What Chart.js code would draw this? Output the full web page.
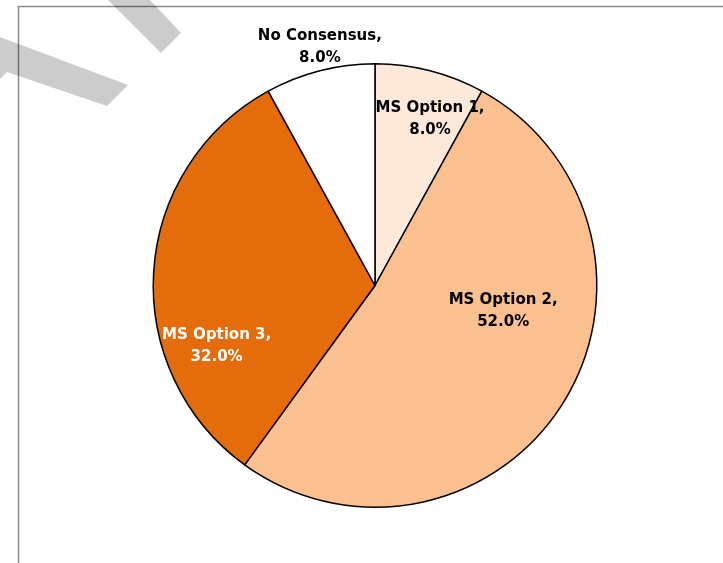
<!DOCTYPE html>
<html>
<head>
<meta charset="utf-8">
<script src="https://cdn.jsdelivr.net/npm/chart.js@4.4.0/dist/chart.umd.min.js"></script>
<style>
  html, body { margin: 0; padding: 0; background: #ffffff; }
  #wrap { width: 723px; height: 563px; position: relative; }
</style>
</head>
<body>
<div id="wrap"><canvas id="c" width="723" height="563"></canvas></div>
<script>
// ---- data ----
const categories = ["MS Option 1", "MS Option 2", "MS Option 3", "No Consensus"];
const shares = [8.0, 52.0, 32.0, 8.0];
const sliceColors = ["#FDE9D9", "#FAC090", "#E46C0A", "#FFFFFF"];
const labelColors = ["#000000", "#000000", "#FFFFFF", "#000000"];
// label placement: angle (deg, clockwise from 3 o'clock) and radius as fraction of pie radius
const labelAngles = [-71.7, 11.5, 159, 257];
const labelRadii = [0.79, 0.59, 0.765, 1.105];

const decorPlugin = {
  id: 'decor',
  beforeDraw(chart) {
    const ctx = chart.ctx;
    ctx.save();
    ctx.fillStyle = '#ffffff';
    ctx.fillRect(0, 0, chart.width, chart.height);
    // frame
    ctx.strokeStyle = '#8a8a8a';
    ctx.lineWidth = 1.5;
    ctx.beginPath();
    ctx.moveTo(18.5, chart.height + 2);
    ctx.lineTo(18.5, 6.5);
    ctx.lineTo(chart.width + 2, 6.5);
    ctx.stroke();
    // watermark fragments
    ctx.fillStyle = 'rgba(0,0,0,0.2)';
    ctx.beginPath();
    ctx.moveTo(108, 0); ctx.lineTo(150, 0); ctx.lineTo(181, 33); ctx.lineTo(161, 53);
    ctx.closePath(); ctx.fill();
    ctx.beginPath();
    ctx.moveTo(0, 37); ctx.lineTo(128, 85); ctx.lineTo(107, 106); ctx.lineTo(7, 72); ctx.lineTo(0, 79);
    ctx.closePath(); ctx.fill();
    ctx.restore();
  }
};

const labelPlugin = {
  id: 'sliceLabels',
  afterDatasetsDraw(chart) {
    const ctx = chart.ctx;
    const meta = chart.getDatasetMeta(0);
    const arc0 = meta.data[0];
    const cx = arc0.x, cy = arc0.y, r = arc0.outerRadius;
    ctx.save();
    ctx.font = 'bold 15px "DejaVu Sans", "Liberation Sans", sans-serif';
    ctx.textAlign = 'center';
    ctx.textBaseline = 'middle';
    categories.forEach((name, i) => {
      const a = labelAngles[i] * Math.PI / 180;
      const x = cx + Math.cos(a) * r * labelRadii[i];
      const y = cy + Math.sin(a) * r * labelRadii[i];
      ctx.fillStyle = labelColors[i];
      ctx.fillText(name + ',', x, y - 11);
      ctx.fillText(shares[i].toFixed(1) + '%', x, y + 11);
    });
    ctx.restore();
  }
};

new Chart(document.getElementById('c'), {
  type: 'pie',
  data: {
    labels: categories,
    datasets: [{
      data: shares,
      backgroundColor: sliceColors,
      borderColor: '#000000',
      borderWidth: 1.5
    }]
  },
  options: {
    responsive: false,
    animation: false,
    devicePixelRatio: 1,
    layout: { padding: { top: 63, bottom: 55, left: 27, right: 0 } },
    plugins: {
      legend: { display: false },
      tooltip: { enabled: false },
      title: { display: false }
    }
  },
  plugins: [decorPlugin, labelPlugin]
});
</script>
</body>
</html>
